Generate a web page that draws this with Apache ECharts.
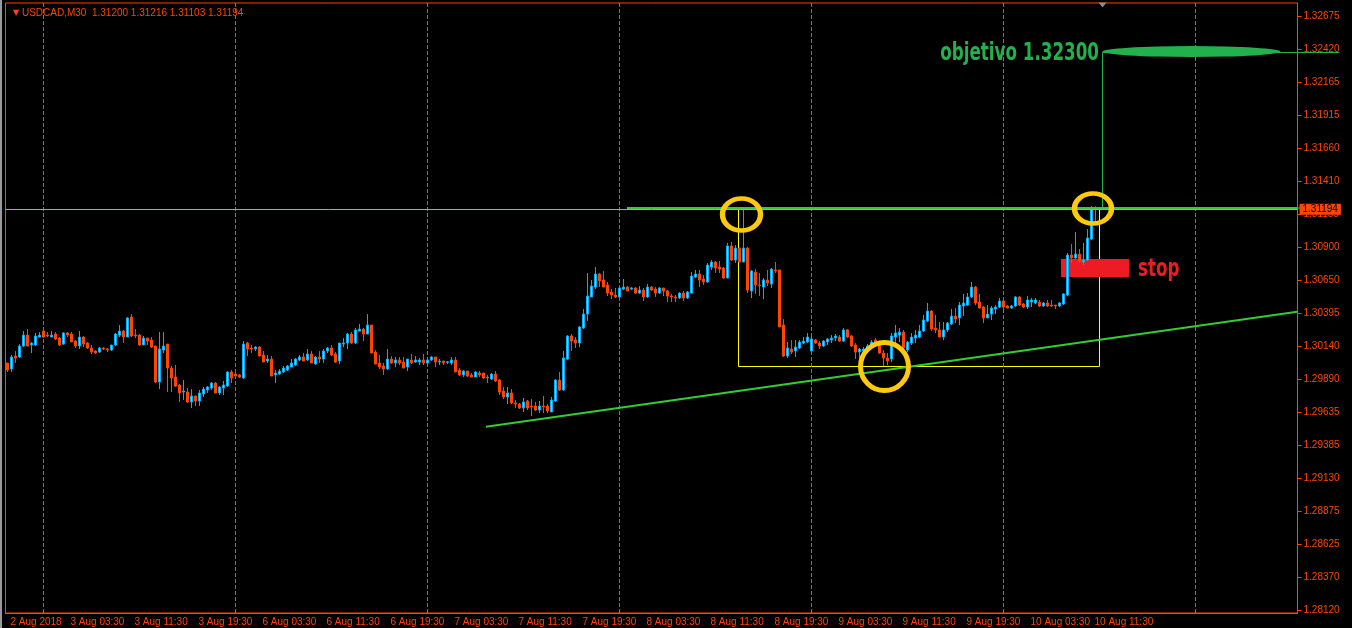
<!DOCTYPE html>
<html>
<head>
<meta charset="utf-8">
<title>USDCAD,M30</title>
<script src="https://cdn.jsdelivr.net/npm/echarts@6/dist/echarts.min.js"></script>
<style>
  html, body { margin: 0; padding: 0; background: #000; }
  #wrap { position: relative; width: 1352px; height: 628px; }
  #chart { width: 1352px; height: 628px; }
  #wrap::before { content: ''; position: absolute; left: 0; top: 0; width: 2px; height: 628px; background: #9a9a9a; z-index: 2; }
</style>
</head>
<body>
<div id="wrap"><div id="chart"></div></div>
<script>
// M30 candles per trading day, each row [open, close, low, high]
const aug2 = [ // 20:00 - 23:30
  [1.30015, 1.29961, 1.29946, 1.30015], [1.29969, 1.30061, 1.29946, 1.30076],
  [1.30068, 1.30053, 1.30015, 1.30107], [1.30061, 1.30145, 1.30053, 1.30160],
  [1.30145, 1.30229, 1.30137, 1.30260], [1.30229, 1.30145, 1.30145, 1.30275],
  [1.30153, 1.30168, 1.30091, 1.30176], [1.30153, 1.30222, 1.30145, 1.30245]
];
const aug3 = [
  [1.30214, 1.30229, 1.30214, 1.30252], [1.30260, 1.30214, 1.30206, 1.30260],
  [1.30229, 1.30222, 1.30214, 1.30252], [1.30214, 1.30229, 1.30214, 1.30260],
  [1.30237, 1.30199, 1.30191, 1.30252], [1.30206, 1.30153, 1.30145, 1.30214],
  [1.30160, 1.30245, 1.30153, 1.30252], [1.30245, 1.30229, 1.30214, 1.30252],
  [1.30237, 1.30176, 1.30176, 1.30252], [1.30183, 1.30145, 1.30130, 1.30191],
  [1.30145, 1.30214, 1.30122, 1.30260], [1.30214, 1.30160, 1.30137, 1.30222],
  [1.30168, 1.30130, 1.30122, 1.30176], [1.30130, 1.30099, 1.30084, 1.30153],
  [1.30107, 1.30091, 1.30084, 1.30114], [1.30099, 1.30130, 1.30091, 1.30137],
  [1.30130, 1.30122, 1.30114, 1.30137], [1.30122, 1.30114, 1.30099, 1.30130],
  [1.30114, 1.30153, 1.30107, 1.30153], [1.30153, 1.30237, 1.30145, 1.30245],
  [1.30229, 1.30260, 1.30214, 1.30306], [1.30260, 1.30214, 1.30168, 1.30268],
  [1.30214, 1.30360, 1.30214, 1.30367], [1.30367, 1.30222, 1.30214, 1.30390],
  [1.30229, 1.30222, 1.30206, 1.30275], [1.30229, 1.30153, 1.30145, 1.30237],
  [1.30153, 1.30206, 1.30153, 1.30222], [1.30206, 1.30183, 1.30153, 1.30206],
  [1.30191, 1.30137, 1.30130, 1.30214], [1.30145, 1.29869, 1.29861, 1.30145],
  [1.29869, 1.30122, 1.29815, 1.30252], [1.30114, 1.30145, 1.30091, 1.30252],
  [1.30160, 1.29976, 1.29792, 1.30160], [1.29976, 1.29900, 1.29792, 1.29992],
  [1.29907, 1.29838, 1.29831, 1.29999], [1.29846, 1.29785, 1.29716, 1.29854],
  [1.29792, 1.29800, 1.29731, 1.29884], [1.29792, 1.29716, 1.29708, 1.29823],
  [1.29716, 1.29762, 1.29670, 1.29815], [1.29762, 1.29723, 1.29685, 1.29762],
  [1.29723, 1.29785, 1.29685, 1.29808], [1.29777, 1.29815, 1.29754, 1.29831],
  [1.29808, 1.29831, 1.29785, 1.29838], [1.29823, 1.29861, 1.29808, 1.29869],
  [1.29861, 1.29785, 1.29785, 1.29869], [1.29785, 1.29831, 1.29769, 1.29838],
  [1.29823, 1.29846, 1.29769, 1.29877], [1.29838, 1.29946, 1.29831, 1.29953]
];
const aug6 = [
  [1.29946, 1.29900, 1.29861, 1.29961], [1.29930, 1.29915, 1.29907, 1.29938],
  [1.29923, 1.29907, 1.29900, 1.29930], [1.29900, 1.30160, 1.29892, 1.30183],
  [1.30168, 1.30122, 1.30068, 1.30176], [1.30130, 1.30122, 1.30091, 1.30153],
  [1.30122, 1.30137, 1.30107, 1.30145], [1.30137, 1.30068, 1.30068, 1.30145],
  [1.30076, 1.30022, 1.30022, 1.30107], [1.30030, 1.30045, 1.30015, 1.30076],
  [1.30045, 1.29915, 1.29915, 1.30068], [1.29923, 1.29938, 1.29861, 1.29961],
  [1.29930, 1.29953, 1.29923, 1.29969], [1.29946, 1.29976, 1.29938, 1.29992],
  [1.29961, 1.29992, 1.29953, 1.29999], [1.29984, 1.30015, 1.29984, 1.30045],
  [1.29999, 1.30045, 1.29992, 1.30053], [1.30038, 1.30061, 1.30030, 1.30076],
  [1.30061, 1.30030, 1.30030, 1.30091], [1.30038, 1.30084, 1.30030, 1.30122],
  [1.30084, 1.30015, 1.30015, 1.30107], [1.30007, 1.30061, 1.29999, 1.30068],
  [1.30061, 1.30045, 1.30015, 1.30107], [1.30045, 1.30107, 1.30015, 1.30122],
  [1.30107, 1.30130, 1.30091, 1.30137], [1.30130, 1.30076, 1.30068, 1.30153],
  [1.30084, 1.30022, 1.30015, 1.30099], [1.30030, 1.30168, 1.30007, 1.30168],
  [1.30160, 1.30168, 1.30137, 1.30206], [1.30168, 1.30237, 1.30122, 1.30245],
  [1.30237, 1.30168, 1.30160, 1.30252], [1.30168, 1.30268, 1.30160, 1.30283],
  [1.30260, 1.30275, 1.30260, 1.30314], [1.30275, 1.30237, 1.30183, 1.30283],
  [1.30237, 1.30306, 1.30237, 1.30390], [1.30306, 1.30091, 1.30091, 1.30306],
  [1.30099, 1.30007, 1.30007, 1.30114], [1.30015, 1.29984, 1.29969, 1.30076],
  [1.29992, 1.29969, 1.29923, 1.30015], [1.29969, 1.30045, 1.29961, 1.30122],
  [1.30045, 1.30015, 1.30007, 1.30068], [1.30015, 1.30038, 1.29984, 1.30061],
  [1.30038, 1.30015, 1.29999, 1.30061], [1.30022, 1.29976, 1.29976, 1.30061],
  [1.29984, 1.30045, 1.29953, 1.30045], [1.30038, 1.30015, 1.30007, 1.30084],
  [1.30022, 1.30038, 1.30015, 1.30068], [1.30022, 1.30038, 1.29999, 1.30053]
];
const aug7 = [
  [1.30038, 1.30015, 1.29999, 1.30084], [1.30015, 1.30038, 1.29999, 1.30061],
  [1.30038, 1.30061, 1.30030, 1.30068], [1.30061, 1.30022, 1.29984, 1.30061],
  [1.30022, 1.30030, 1.29999, 1.30045], [1.30030, 1.30015, 1.29999, 1.30030],
  [1.30020, 1.30024, 1.30007, 1.30030], [1.30015, 1.30038, 1.29999, 1.30061],
  [1.30038, 1.29946, 1.29946, 1.30061], [1.29961, 1.29923, 1.29915, 1.29976],
  [1.29923, 1.29953, 1.29907, 1.29961], [1.29953, 1.29915, 1.29907, 1.29953],
  [1.29923, 1.29907, 1.29907, 1.29938], [1.29907, 1.29946, 1.29907, 1.29953],
  [1.29938, 1.29923, 1.29907, 1.29953], [1.29938, 1.29900, 1.29892, 1.29938],
  [1.29907, 1.29900, 1.29861, 1.29923], [1.29892, 1.29930, 1.29884, 1.29938],
  [1.29930, 1.29877, 1.29869, 1.29953], [1.29884, 1.29792, 1.29769, 1.29892],
  [1.29800, 1.29754, 1.29739, 1.29831], [1.29754, 1.29785, 1.29700, 1.29831],
  [1.29785, 1.29708, 1.29700, 1.29815], [1.29708, 1.29700, 1.29670, 1.29731],
  [1.29700, 1.29670, 1.29662, 1.29708], [1.29670, 1.29716, 1.29639, 1.29746],
  [1.29723, 1.29670, 1.29654, 1.29731], [1.29685, 1.29677, 1.29608, 1.29739],
  [1.29685, 1.29654, 1.29647, 1.29716], [1.29654, 1.29685, 1.29631, 1.29723],
  [1.29685, 1.29677, 1.29631, 1.29762], [1.29685, 1.29647, 1.29631, 1.29700],
  [1.29639, 1.29731, 1.29639, 1.29754], [1.29723, 1.29884, 1.29716, 1.29892],
  [1.29884, 1.29808, 1.29800, 1.29946], [1.29808, 1.30053, 1.29800, 1.30107],
  [1.30045, 1.30222, 1.30038, 1.30229], [1.30222, 1.30183, 1.30107, 1.30237],
  [1.30191, 1.30168, 1.30130, 1.30214], [1.30168, 1.30291, 1.30137, 1.30298],
  [1.30283, 1.30390, 1.30275, 1.30429], [1.30390, 1.30528, 1.30337, 1.30705],
  [1.30521, 1.30605, 1.30521, 1.30651], [1.30597, 1.30697, 1.30582, 1.30751],
  [1.30697, 1.30643, 1.30597, 1.30705], [1.30651, 1.30597, 1.30597, 1.30720],
  [1.30613, 1.30551, 1.30528, 1.30636], [1.30559, 1.30536, 1.30505, 1.30582]
];
const aug8 = [
  [1.30536, 1.30521, 1.30513, 1.30590], [1.30521, 1.30590, 1.30521, 1.30590],
  [1.30582, 1.30597, 1.30574, 1.30659], [1.30597, 1.30567, 1.30567, 1.30605],
  [1.30582, 1.30590, 1.30574, 1.30597], [1.30590, 1.30551, 1.30544, 1.30597],
  [1.30551, 1.30574, 1.30544, 1.30605], [1.30574, 1.30521, 1.30490, 1.30590],
  [1.30521, 1.30597, 1.30513, 1.30620], [1.30597, 1.30574, 1.30567, 1.30605],
  [1.30582, 1.30551, 1.30521, 1.30597], [1.30551, 1.30590, 1.30544, 1.30597],
  [1.30590, 1.30567, 1.30528, 1.30590], [1.30567, 1.30528, 1.30482, 1.30574],
  [1.30528, 1.30521, 1.30482, 1.30544], [1.30521, 1.30513, 1.30482, 1.30536],
  [1.30513, 1.30551, 1.30505, 1.30559], [1.30551, 1.30513, 1.30490, 1.30567],
  [1.30513, 1.30559, 1.30505, 1.30567], [1.30551, 1.30682, 1.30551, 1.30712],
  [1.30674, 1.30697, 1.30666, 1.30728], [1.30697, 1.30651, 1.30597, 1.30728],
  [1.30659, 1.30636, 1.30613, 1.30689], [1.30636, 1.30766, 1.30628, 1.30781],
  [1.30751, 1.30789, 1.30728, 1.30804], [1.30789, 1.30743, 1.30705, 1.30797],
  [1.30751, 1.30735, 1.30705, 1.30797], [1.30743, 1.30666, 1.30659, 1.30751],
  [1.30666, 1.30912, 1.30666, 1.30935], [1.30912, 1.30804, 1.30797, 1.30942],
  [1.30804, 1.30896, 1.30781, 1.30919], [1.30896, 1.30789, 1.30789, 1.30896],
  [1.30789, 1.30896, 1.30789, 1.31188], [1.30896, 1.30574, 1.30551, 1.30904],
  [1.30567, 1.30720, 1.30513, 1.30728], [1.30712, 1.30613, 1.30544, 1.30735],
  [1.30613, 1.30608, 1.30528, 1.30705], [1.30597, 1.30651, 1.30505, 1.30666],
  [1.30651, 1.30628, 1.30605, 1.30728], [1.30620, 1.30735, 1.30590, 1.30743],
  [1.30728, 1.30720, 1.30705, 1.30789], [1.30728, 1.30291, 1.30291, 1.30728],
  [1.30306, 1.30068, 1.30061, 1.30352], [1.30068, 1.30130, 1.30053, 1.30176],
  [1.30122, 1.30099, 1.30084, 1.30191], [1.30107, 1.30137, 1.30061, 1.30191],
  [1.30130, 1.30176, 1.30122, 1.30191], [1.30168, 1.30183, 1.30160, 1.30214]
];
const aug9 = [
  [1.30176, 1.30214, 1.30168, 1.30245], [1.30107, 1.30199, 1.30099, 1.30229],
  [1.30191, 1.30168, 1.30160, 1.30199], [1.30168, 1.30145, 1.30122, 1.30183],
  [1.30145, 1.30183, 1.30137, 1.30191], [1.30176, 1.30199, 1.30153, 1.30206],
  [1.30191, 1.30206, 1.30168, 1.30229], [1.30206, 1.30222, 1.30183, 1.30237],
  [1.30214, 1.30183, 1.30176, 1.30229], [1.30183, 1.30268, 1.30176, 1.30283],
  [1.30268, 1.30214, 1.30206, 1.30275], [1.30222, 1.30145, 1.30137, 1.30229],
  [1.30153, 1.30099, 1.30045, 1.30168], [1.30099, 1.30122, 1.30022, 1.30130],
  [1.30107, 1.30122, 1.30076, 1.30137], [1.30114, 1.30145, 1.30099, 1.30160],
  [1.30137, 1.30176, 1.30122, 1.30191], [1.30191, 1.30153, 1.30137, 1.30206],
  [1.30153, 1.30091, 1.30084, 1.30160], [1.30091, 1.30053, 1.29992, 1.30114],
  [1.30053, 1.30030, 1.29999, 1.30091], [1.30045, 1.30222, 1.30022, 1.30245],
  [1.30214, 1.30245, 1.30137, 1.30306], [1.30229, 1.30252, 1.30176, 1.30283],
  [1.30252, 1.30130, 1.30122, 1.30268], [1.30114, 1.30176, 1.30099, 1.30183],
  [1.30168, 1.30214, 1.30153, 1.30245], [1.30206, 1.30229, 1.30168, 1.30268],
  [1.30214, 1.30260, 1.30206, 1.30306], [1.30260, 1.30344, 1.30252, 1.30383],
  [1.30337, 1.30413, 1.30329, 1.30475], [1.30413, 1.30275, 1.30260, 1.30421],
  [1.30283, 1.30268, 1.30245, 1.30383], [1.30268, 1.30214, 1.30214, 1.30329],
  [1.30214, 1.30268, 1.30191, 1.30329], [1.30268, 1.30321, 1.30252, 1.30329],
  [1.30314, 1.30375, 1.30306, 1.30429], [1.30375, 1.30352, 1.30321, 1.30436],
  [1.30360, 1.30459, 1.30306, 1.30482], [1.30452, 1.30475, 1.30375, 1.30544],
  [1.30459, 1.30521, 1.30452, 1.30551], [1.30521, 1.30597, 1.30513, 1.30636],
  [1.30597, 1.30475, 1.30459, 1.30605], [1.30482, 1.30436, 1.30436, 1.30544],
  [1.30444, 1.30360, 1.30321, 1.30452], [1.30360, 1.30390, 1.30360, 1.30459],
  [1.30390, 1.30436, 1.30344, 1.30452], [1.30429, 1.30444, 1.30390, 1.30459]
];
const aug10 = [ // 00:00 - 12:00
  [1.30444, 1.30490, 1.30436, 1.30513], [1.30490, 1.30444, 1.30413, 1.30498],
  [1.30452, 1.30436, 1.30436, 1.30459], [1.30436, 1.30452, 1.30429, 1.30459],
  [1.30452, 1.30521, 1.30444, 1.30528], [1.30521, 1.30459, 1.30452, 1.30528],
  [1.30467, 1.30444, 1.30436, 1.30475], [1.30444, 1.30498, 1.30429, 1.30528],
  [1.30482, 1.30498, 1.30444, 1.30513], [1.30475, 1.30498, 1.30467, 1.30513],
  [1.30482, 1.30452, 1.30444, 1.30498], [1.30452, 1.30475, 1.30444, 1.30482],
  [1.30475, 1.30452, 1.30444, 1.30498], [1.30459, 1.30452, 1.30444, 1.30498],
  [1.30459, 1.30452, 1.30429, 1.30459], [1.30452, 1.30475, 1.30444, 1.30482],
  [1.30467, 1.30544, 1.30459, 1.30551], [1.30536, 1.30843, 1.30528, 1.30858],
  [1.30843, 1.30820, 1.30781, 1.30927], [1.30820, 1.30850, 1.30812, 1.31019],
  [1.30850, 1.30797, 1.30781, 1.30889], [1.30789, 1.30804, 1.30766, 1.30935],
  [1.30804, 1.30973, 1.30797, 1.31042], [1.30965, 1.31195, 1.30958, 1.31218],
  [1.31200, 1.31194, 1.31103, 1.31216]
];

// time axis: M30 bars, weekend skipped, empty shift area on the right
const days = ['2 Aug', '3 Aug', '6 Aug', '7 Aug', '8 Aug', '9 Aug', '10 Aug', '13 Aug'];
const firstSlot = 40; // 2 Aug starts at 20:00
const barCount = 323;
const firstLabel = '2 Aug 2018';
const xTickLabels = ['3 Aug 03:30', '3 Aug 11:30', '3 Aug 19:30', '6 Aug 03:30', '6 Aug 11:30',
  '6 Aug 19:30', '7 Aug 03:30', '7 Aug 11:30', '7 Aug 19:30', '8 Aug 03:30', '8 Aug 11:30',
  '8 Aug 19:30', '9 Aug 03:30', '9 Aug 11:30', '9 Aug 19:30', '10 Aug 03:30', '10 Aug 11:30'];

// price scale
const priceTicks = [1.32675, 1.32420, 1.32165, 1.31915, 1.31660, 1.31410, 1.31155, 1.30900,
  1.30650, 1.30395, 1.30140, 1.29890, 1.29635, 1.29385, 1.29130, 1.28875, 1.28625, 1.28370, 1.28120];
const priceMin = 1.28098;
const priceMax = 1.32775;

const quote = { symbol: 'USDCAD,M30', open: 1.31200, high: 1.31216, low: 1.31103, close: 1.31194 };

// drawn objects, in [bar index, price]
const gridBars = [9, 57, 105, 153, 201, 249, 297];
const trendLine = [[119.625, 1.29526], [322.45, 1.30407]];
const targetLeg = [[273.75, 1.31203], [273.75, 1.32396]];
const levels = [[154.875, 1.31203, 2], [273.75, 1.32396, 1]]; // start bar, price, line width
const boxRange = [[182.75, 1.31192], [273, 1.29988]];
const stopZone = [[263.375, 1.30812], [280.375, 1.30674]];
const rings = [[183.5, 1.31153], [271.375, 1.31199], [219.25, 1.29988]];
const targetMark = [296, 1.32403];
const shiftMark = [273.75, priceMax];
const notes = [
  { at: [272.875, 1.32388], text: 'objetivo 1.32300', color: '#22b14c', align: 'right' },
  { at: [282.625, 1.30728], text: 'stop', color: '#ed1c24', align: 'left' }
];

const RED = '#ff4500';
const candles = [].concat(aug2, aug3, aug6, aug7, aug8, aug9, aug10);

const categories = [];
for (let d = 0; categories.length < barCount; d++) {
  for (let s = d === 0 ? firstSlot : 0; s < 48 && categories.length < barCount; s++) {
    const hh = String(Math.floor(s / 2)).padStart(2, '0');
    categories.push(days[d] + ' ' + hh + (s % 2 ? ':30' : ':00'));
  }
}
const showTick = (i, v) => i === 0 || xTickLabels.indexOf(v) >= 0;
const crisp = v => Math.round(v - 0.5) + 0.5;

const labelFont = 'Liberation Sans';
const noteFont = 'bold 24px "DejaVu Sans Condensed", sans-serif';
const solid = (color, width) => ({ color: color, width: width, type: 'solid' });

let myChart = echarts.init(document.getElementById('chart'));
let option = {
  backgroundColor: '#000',
  animation: false,
  title: {
    left: 8, top: 3,
    text: '{t|▼} ' + quote.symbol + '  ' +
      [quote.open, quote.high, quote.low, quote.close].map(v => v.toFixed(5)).join(' '),
    textStyle: {
      color: RED, fontSize: 10, fontWeight: 'normal', fontFamily: labelFont,
      rich: { t: { fontSize: 8, color: RED, fontFamily: 'DejaVu Sans' } }
    }
  },
  grid: { left: 5.5, right: 54.5, top: 3, bottom: 15, show: true, borderColor: RED, borderWidth: 1 },
  xAxis: [
    {
      type: 'category', data: categories, boundaryGap: true,
      axisLine: { lineStyle: { color: RED } },
      axisTick: { alignWithLabel: true, interval: showTick, length: 4, lineStyle: { color: RED } },
      axisLabel: {
        interval: showTick, formatter: (v, i) => (i === 0 ? firstLabel : v),
        color: RED, fontSize: 10, fontFamily: labelFont, align: 'left', margin: 4, padding: [0, 0, 0, 3]
      },
      splitLine: { show: false }
    },
    { type: 'value', min: -0.5, max: barCount - 0.5, show: false, splitLine: { show: false } }
  ],
  yAxis: {
    type: 'value', position: 'right', min: priceMin, max: priceMax,
    axisLine: { show: true, onZero: false, lineStyle: { color: RED } },
    axisTick: { show: true, customValues: priceTicks, length: 4, lineStyle: { color: RED } },
    axisLabel: {
      customValues: priceTicks, formatter: v => v.toFixed(5),
      color: RED, fontSize: 10, fontFamily: labelFont, margin: 6
    },
    splitLine: { show: false }
  },
  series: [
    {
      // chart grid: dotted vertical once a day, full height of the plot
      name: 'grid', type: 'custom', xAxisIndex: 1, z: 1, silent: true,
      data: gridBars.map(b => [b, priceMin]),
      renderItem: (params, api) => {
        const x = crisp(api.coord([api.value(0), api.value(1)])[0]);
        const cs = params.coordSys;
        return {
          type: 'line',
          shape: { x1: x, y1: cs.y, x2: x, y2: cs.y + cs.height },
          style: { stroke: RED, lineWidth: 1, lineDash: [4, 2], opacity: 1 }
        };
      }
    },
    {
      // the two rectangles, behind the candles
      name: 'boxes', type: 'line', xAxisIndex: 1, data: [], z: 1, silent: true,
      markArea: {
        z: 1, silent: true, label: { show: false },
        data: [
          [{ coord: boxRange[0], itemStyle: { color: 'transparent', borderColor: '#ffff00', borderWidth: 1 } },
           { coord: boxRange[1] }],
          [{ coord: stopZone[0], itemStyle: { color: '#ed1c24', borderWidth: 0 } }, { coord: stopZone[1] }]
        ]
      }
    },
    {
      name: 'USDCAD', type: 'candlestick', data: candles, z: 2, barWidth: 2,
      itemStyle: { color: '#6ccdf5', color0: RED, borderColor: '#00b0f8', borderColor0: RED, borderWidth: 1 }
    },
    {
      name: 'lines', type: 'line', xAxisIndex: 1, data: [], z: 3, silent: true,
      markLine: {
        z: 3, silent: true, symbol: 'none', precision: 5, label: { show: false },
        data: [
          {
            yAxis: quote.close, lineStyle: solid('#c8a064', 1),
            label: {
              show: true, position: 'end', distance: 2, formatter: quote.close.toFixed(5),
              backgroundColor: RED, color: '#000', fontSize: 10, fontFamily: labelFont, padding: [1, 3, 0, 3]
            }
          },
          [{ coord: trendLine[0] }, { coord: trendLine[1], lineStyle: solid('#33cc33', 2) }],
          [{ coord: targetLeg[0] }, { coord: targetLeg[1], lineStyle: solid('#22b14c', 1) }]
        ]
      }
    },
    {
      // horizontal level lines, running on into the price scale as in the terminal
      name: 'levels', type: 'custom', xAxisIndex: 1, z: 3, silent: true, clip: false,
      data: levels,
      renderItem: (params, api) => {
        const p = api.coord([api.value(0), api.value(1)]);
        const cs = params.coordSys;
        const w = api.value(2);
        const color = w > 1 ? '#33cc33' : '#22b14c';
        const y = w > 1 ? Math.round(p[1]) : crisp(p[1]);
        return {
          type: 'group',
          children: [
            { type: 'line', shape: { x1: p[0], y1: y, x2: cs.x + cs.width, y2: y }, style: { stroke: color, lineWidth: w } },
            { type: 'line', shape: { x1: cs.x + cs.width, y1: y, x2: cs.x + cs.width + 42, y2: y }, style: { stroke: color, lineWidth: 1 } }
          ]
        };
      }
    },
    {
      name: 'marks', type: 'scatter', xAxisIndex: 1, z: 4, silent: true,
      itemStyle: { color: 'transparent', borderColor: '#ffc90e', borderWidth: 5, opacity: 1 },
      data: [
        { value: rings[0], symbolSize: [38, 32] },
        { value: rings[1], symbolSize: [37, 30] },
        { value: rings[2], symbolSize: [48, 48] },
        { value: targetMark, symbolSize: [178, 11], itemStyle: { color: '#22b14c', borderWidth: 0 } },
        { value: shiftMark, symbol: 'triangle', symbolRotate: 180, symbolSize: [8, 5], symbolOffset: [0, 2],
          itemStyle: { color: '#8c8c8c', borderWidth: 0 } }
      ]
    },
    {
      // text objects, squeezed to the narrow bold face of the original
      name: 'notes', type: 'custom', xAxisIndex: 1, z: 5, silent: true,
      data: notes.map(n => n.at),
      renderItem: (params, api) => {
        const n = notes[params.dataIndex];
        const pt = api.coord([api.value(0), api.value(1)]);
        return {
          type: 'text', x: pt[0], y: pt[1], scaleX: 0.775,
          style: { text: n.text, fill: n.color, font: noteFont, align: n.align, verticalAlign: 'middle' }
        };
      }
    }
  ]
};
myChart.setOption(option);
</script>
</body>
</html>
